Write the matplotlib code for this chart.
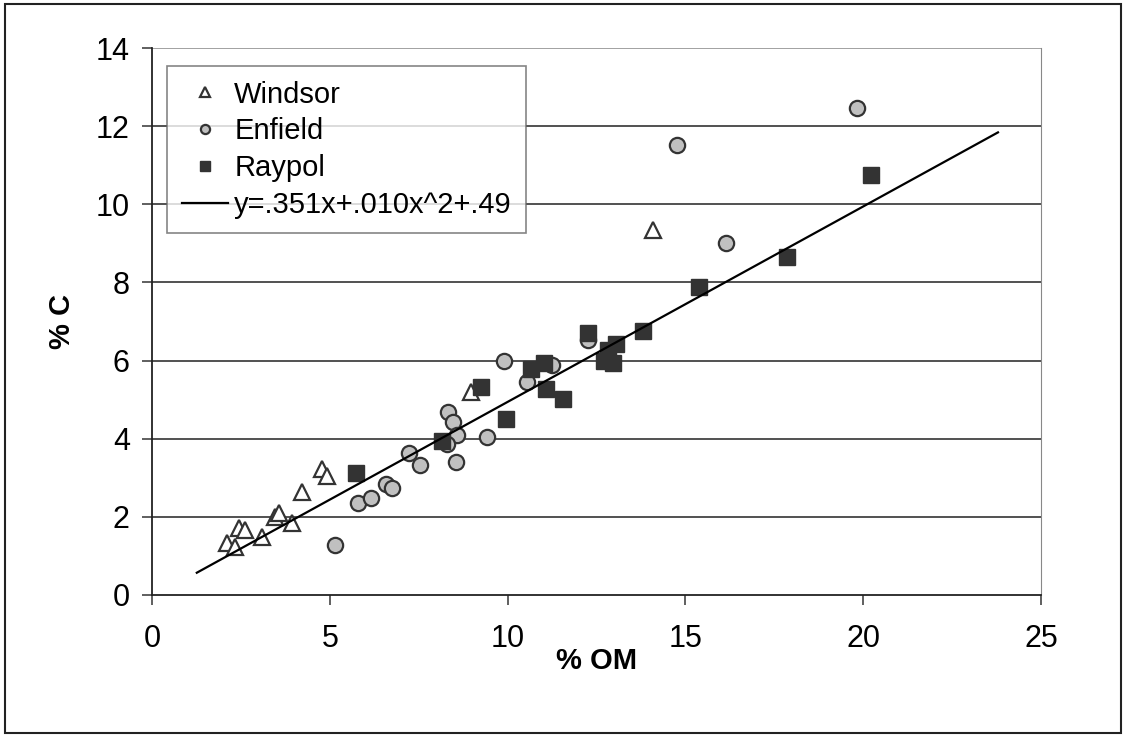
import matplotlib
matplotlib.use("Agg")
import matplotlib.pyplot as plt
from matplotlib.patches import Rectangle

plt.rcParams['font.family'] = ['Liberation Sans', 'DejaVu Sans']

# Windsor
windsor_om = [2.12, 2.33, 2.46, 2.62, 3.08, 3.46, 3.58, 3.95, 4.21, 4.77, 4.91, 8.96, 14.08]
windsor_c = [1.34, 1.24, 1.71, 1.66, 1.48, 2.00, 2.09, 1.85, 2.63, 3.22, 3.05, 5.20, 9.34]

# Enfield
enfield_om = [5.15, 5.78, 6.16, 6.58, 6.74, 7.24, 7.54, 8.33, 8.46, 8.57, 8.29, 8.55, 9.41,
              9.90, 10.54, 11.24, 12.25, 14.75, 16.14, 19.83]
enfield_c = [1.28, 2.35, 2.49, 2.83, 2.73, 3.63, 3.33, 4.68, 4.42, 4.10, 3.86, 3.41, 4.05,
             5.99, 5.46, 5.89, 6.53, 11.52, 9.00, 12.46]

# Raypol
raypol_om = [5.74, 8.15, 9.25, 9.95, 10.65, 11.02, 11.07, 11.55, 12.25, 12.71, 12.83, 12.95,
             13.06, 13.80, 15.39, 17.87, 20.21]
raypol_c = [3.11, 3.95, 5.32, 4.50, 5.78, 5.95, 5.26, 5.02, 6.70, 6.00, 6.27, 5.95,
            6.43, 6.76, 7.89, 8.66, 10.75]

# fitted line as drawn
fit_om = [1.26, 23.79]
fit_c = [0.57, 11.84]
fit_label = "y=.351x+.010x^2+.49"

xticks = [0, 5, 10, 15, 20, 25]
yticks = [0, 2, 4, 6, 8, 10, 12, 14]

dark = "#333333"

fig = plt.figure(figsize=(11.28, 7.4), dpi=100)
ax = fig.add_axes([152 / 1128, 1 - 595 / 740, 889 / 1128, 547 / 740])

# figure frame
fig.patches.append(Rectangle((5 / 1128, 1 - 733 / 740), 1116 / 1128, 729 / 740,
                             transform=fig.transFigure, fill=False,
                             edgecolor="#222222", linewidth=1.5))

for y in yticks[1:]:
    ax.axhline(y, color="#222222" if y < 14 else "#888888", linewidth=1.1, zorder=1)

ax.plot(windsor_om, windsor_c, linestyle="none", marker="^", markersize=12,
        markerfacecolor="white", markeredgecolor=dark, markeredgewidth=1.6,
        label="Windsor", zorder=3)
ax.plot(enfield_om, enfield_c, linestyle="none", marker="o", markersize=11,
        markerfacecolor="#c0c0c0", markeredgecolor=dark, markeredgewidth=1.6,
        label="Enfield", zorder=3)
ax.plot(raypol_om, raypol_c, linestyle="none", marker="s", markersize=11,
        markerfacecolor=dark, markeredgecolor=dark, markeredgewidth=1.0,
        label="Raypol", zorder=3)
ax.plot(fit_om, fit_c, color="black", linewidth=1.6, label=fit_label, zorder=4)

ax.set_xlim(0, 25)
ax.set_ylim(0, 14)
ax.set_xticks(xticks)
ax.set_yticks(yticks)
ax.tick_params(axis="both", direction="out", length=7, width=1.2, color="#444444",
               labelsize=22)
ax.tick_params(axis="x", pad=14)
ax.tick_params(axis="y", pad=9)

ax.spines["top"].set_visible(False)
ax.spines["right"].set_color("#888888")
ax.spines["left"].set_color("#222222")
ax.spines["bottom"].set_color("#222222")
ax.spines["left"].set_linewidth(1.3)
ax.spines["bottom"].set_linewidth(1.3)

ax.set_xlabel("% OM", fontsize=21, fontweight="bold", labelpad=-5)
ax.set_ylabel("% C", fontsize=21, fontweight="bold", labelpad=14)

leg = ax.legend(loc="upper left", bbox_to_anchor=(0.017, 0.967), borderaxespad=0,
                fontsize=21, markerscale=0.6, frameon=True, fancybox=False,
                handlelength=1.6, handletextpad=0.2, labelspacing=0.3,
                borderpad=0.5)
leg.get_frame().set_edgecolor("#666666")
leg.get_frame().set_linewidth(1.2)

fig.savefig("out.png", dpi=100)
